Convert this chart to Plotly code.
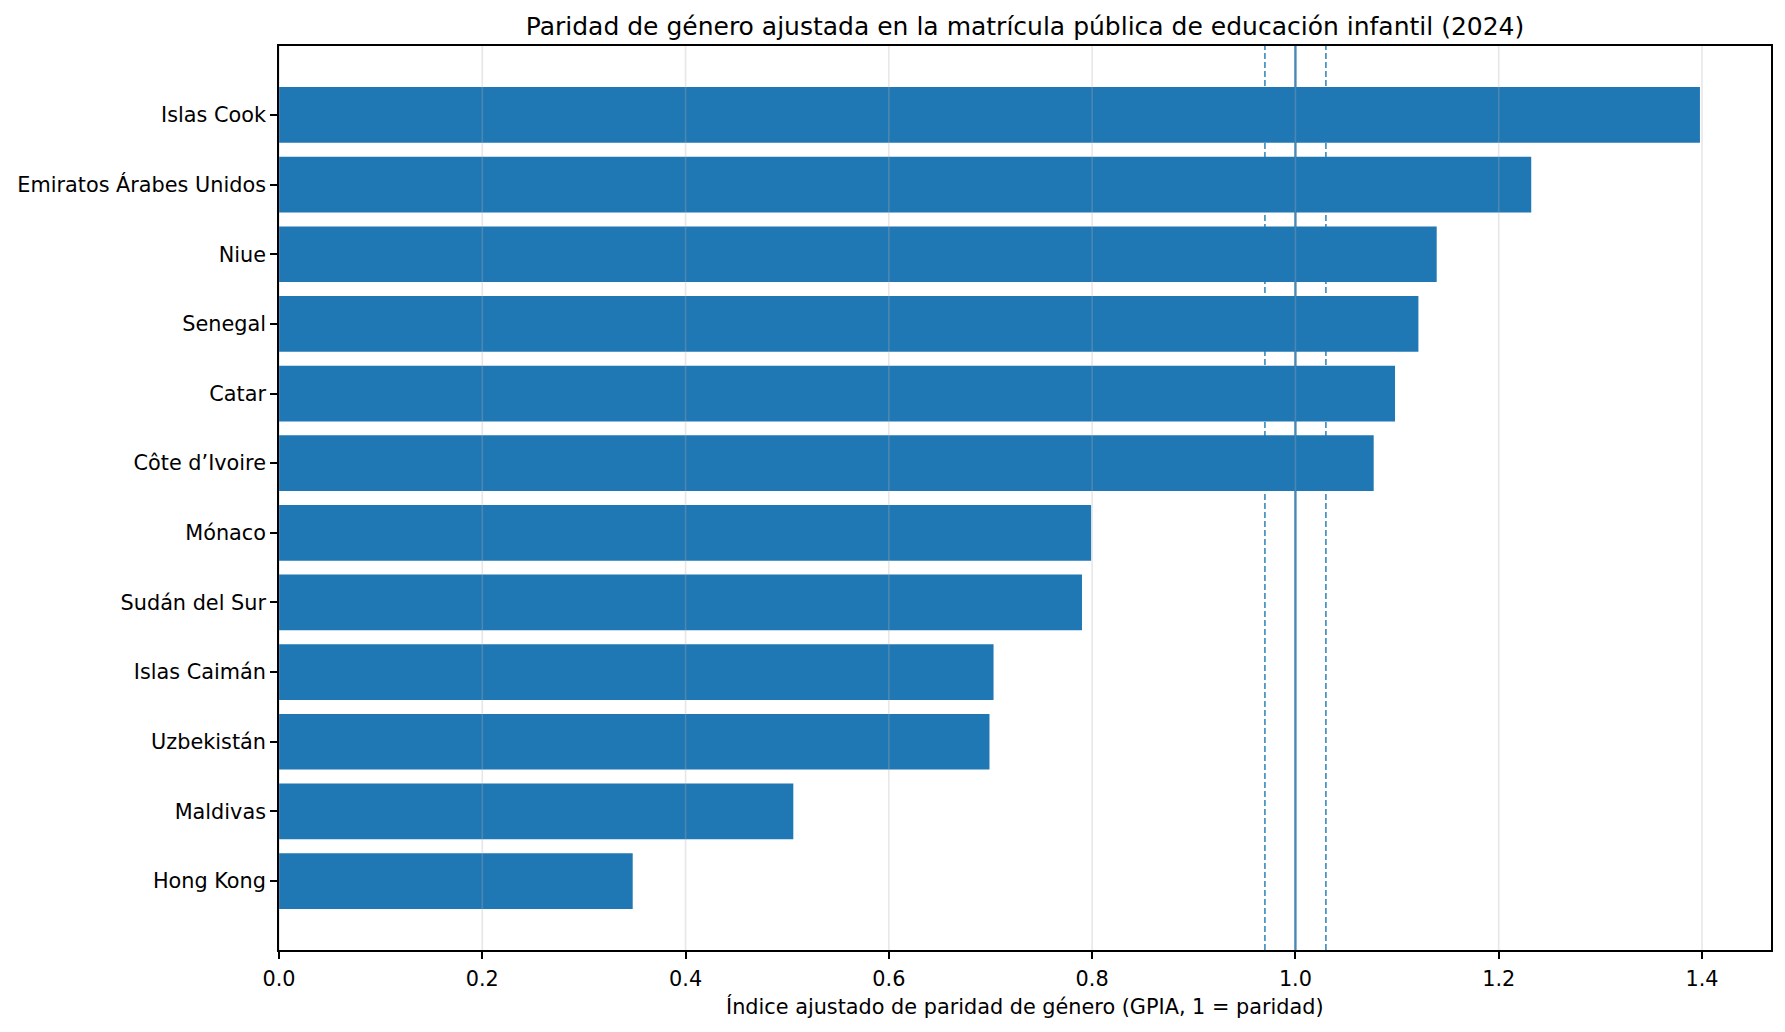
import plotly.graph_objects as go

# GPIA por país (de mayor a menor, como en la figura)
paises = ["Islas Cook", "Emiratos Árabes Unidos", "Niue", "Senegal", "Catar",
          "Côte d’Ivoire", "Mónaco", "Sudán del Sur", "Islas Caimán",
          "Uzbekistán", "Maldivas", "Hong Kong"]
gpia = [1.398, 1.232, 1.139, 1.121, 1.098, 1.077, 0.799, 0.790, 0.703,
        0.699, 0.506, 0.348]

paridad = 1.0
banda_paridad = [0.97, 1.03]
xticks = [0.0, 0.2, 0.4, 0.6, 0.8, 1.0, 1.2, 1.4]

azul = "#1f77b4"
fuente = "DejaVu Sans"
n = len(paises)

W, H = 1785, 1032
m_l, m_r, m_t, m_b = 279, 14, 46, 82
alto_ejes = H - m_t - m_b

fig = go.Figure()
fig.add_trace(go.Bar(
    x=gpia, y=paises, orientation="h",
    marker=dict(color=azul, line=dict(width=0)),
    hoverinfo="x+y",
))

shapes = []
# paridad y banda de tolerancia, por debajo de las barras
shapes.append(dict(type="line", xref="x", yref="paper", x0=paridad, x1=paridad,
                   y0=0, y1=1, layer="below",
                   line=dict(color=azul, width=2.2)))
for b in banda_paridad:
    shapes.append(dict(type="line", xref="x", yref="paper", x0=b, x1=b,
                       y0=0, y1=1, layer="below",
                       line=dict(color=azul, width=1.4, dash="6px,3px")))
# rejilla vertical, por encima de las barras (como en matplotlib)
for t in xticks:
    shapes.append(dict(type="line", xref="x", yref="paper", x0=t, x1=t,
                       y0=0, y1=1, layer="above",
                       line=dict(color="rgba(176,176,176,0.3)", width=1.6)))

fig.update_layout(
    width=W, height=H,
    paper_bgcolor="white", plot_bgcolor="white",
    margin=dict(l=m_l, r=m_r, t=m_t, b=m_b, autoexpand=False),
    font=dict(family=fuente, size=20.8, color="black"),
    bargap=0.2,
    showlegend=False,
    shapes=shapes,
    title=dict(
        text="Paridad de género ajustada en la matrícula pública de educación infantil (2024)",
        x=0.5, xref="paper", xanchor="center",
        y=1 - 26 / H, yref="container", yanchor="middle",
        font=dict(family=fuente, size=25, color="black"),
    ),
    xaxis=dict(
        range=[0, max(gpia) * 1.05],
        tickvals=xticks, ticktext=[f"{t:.1f}" for t in xticks],
        showgrid=False, zeroline=False,
        showline=True, linecolor="black", linewidth=1.7, mirror=True,
        ticks="outside", ticklen=7, tickwidth=1.7, tickcolor="black",
        ticklabelstandoff=2,
        automargin=False,
    ),
    yaxis=dict(
        type="category", categoryorder="array", categoryarray=paises,
        range=[n - 1 + 0.99, -0.99],
        showgrid=False, zeroline=False,
        showline=True, linecolor="black", linewidth=1.7, mirror=True,
        ticks="outside", ticklen=7, tickwidth=1.7, tickcolor="black",
        automargin=False,
    ),
    annotations=[dict(
        text="Índice ajustado de paridad de género (GPIA, 1 = paridad)",
        xref="paper", yref="paper", x=0.5, y=-(1006 - (H - m_b)) / alto_ejes,
        xanchor="center", yanchor="middle", showarrow=False,
        font=dict(family=fuente, size=20.8, color="black"),
    )],
)

# quitar el margen por defecto del <body> para que la figura quede en (0, 0)
fig.write_html("out.html", config={"displayModeBar": False},
               post_script="document.body.style.margin='0';")
